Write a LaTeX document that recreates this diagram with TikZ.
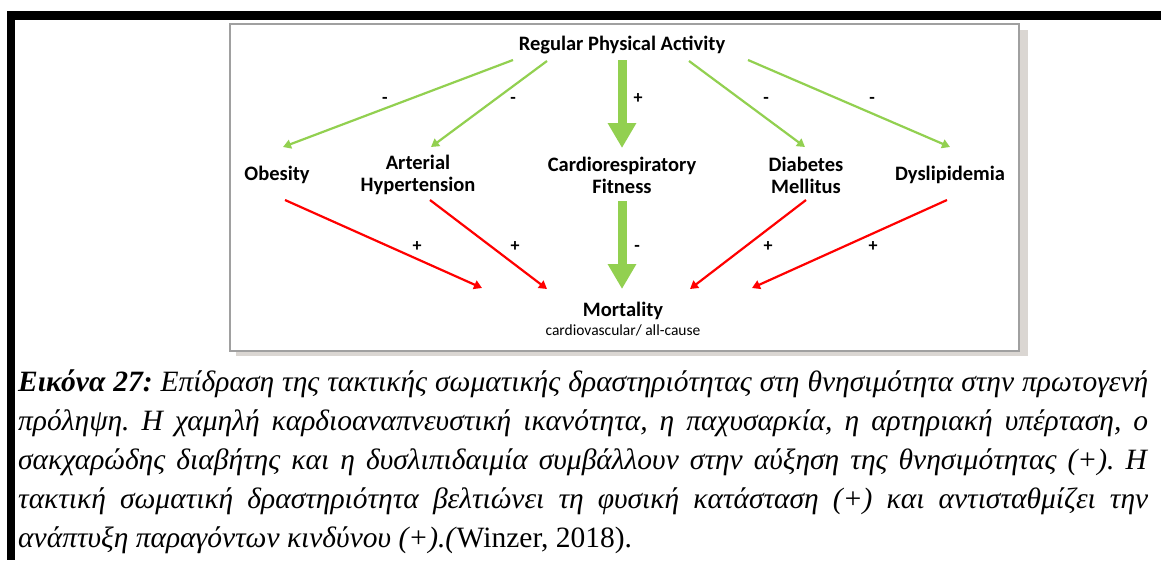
\documentclass[tikz,border=0pt]{standalone}
\usepackage{fontspec}
\newfontfamily\calfont{Carlito}
\newfontfamily\capfont{Liberation Serif}
\usetikzlibrary{arrows.meta}
\definecolor{lgreen}{RGB}{146,208,80}
\definecolor{rred}{RGB}{255,0,0}
\definecolor{boxgray}{RGB}{160,160,160}
\definecolor{shadowgray}{RGB}{218,214,210}
\begin{document}
\begin{tikzpicture}[x=1pt,y=-1pt,
  lbl/.style={font=\calfont\bfseries\fontsize{20.5}{22}\selectfont, align=center, inner sep=0pt},
  sgn/.style={font=\calfont\bfseries\fontsize{18}{20}\selectfont, inner sep=0pt},
  garrow/.style={draw=lgreen, line width=2.2pt, -{Triangle[width=9pt,length=8pt]}},
  rarrow/.style={draw=rred, line width=2.2pt, -{Triangle[width=9pt,length=8pt]}},
  bigarrow/.style={draw=lgreen, line width=9pt, -{Triangle[width=27pt,length=25pt]}},
]
\useasboundingbox (0,0) rectangle (1161,560);
\fill[white] (0,0) rectangle (1161,560);
% outer black frame
\fill[black] (7,11) rectangle (1161,20);
\fill[black] (7,11) rectangle (15,560);
% figure box with shadow
\fill[shadowgray] (1019,30) rectangle (1028,356);
\fill[shadowgray] (236,351) rectangle (1028,356);
\draw[boxgray, line width=2pt] (230,24) rectangle (1019,351);

% nodes
\node[lbl] (rpa) at (622,45) {Regular Physical Activity};
\node[lbl] (ob) at (277,175) {Obesity};
\node[lbl] (ah) at (418,175) {Arterial\\Hypertension};
\node[lbl] (crf) at (622,175) {Cardiorespiratory\\Fitness};
\node[lbl] (dm) at (806,175) {Diabetes\\Mellitus};
\node[lbl] (dl) at (950,175) {Dyslipidemia};
\node[lbl] (mort) at (623,311) {Mortality};
\node[inner sep=0pt, font=\calfont\fontsize{15.5}{17}\selectfont] (mortsub) at (623,330) {cardiovascular/ all-cause};

% connector end coordinates
\coordinate (g1s) at (513,60);  \coordinate (g1e) at (283,147);
\coordinate (g2s) at (547,61);  \coordinate (g2e) at (431,147);
\coordinate (g3s) at (689,61);  \coordinate (g3e) at (805,147);
\coordinate (g4s) at (748,60);  \coordinate (g4e) at (950,147);
\coordinate (b1s) at (622,60);  \coordinate (b1e) at (622,148);
\coordinate (r1s) at (285,200); \coordinate (r1e) at (482,288);
\coordinate (r2s) at (430,200); \coordinate (r2e) at (547,289);
\coordinate (r3s) at (806,200); \coordinate (r3e) at (690,289);
\coordinate (r4s) at (947,200); \coordinate (r4e) at (752,288);
\coordinate (b2s) at (622,201); \coordinate (b2e) at (622,289);

\draw[garrow] (g1s) -- (g1e);
\draw[garrow] (g2s) -- (g2e);
\draw[garrow] (g3s) -- (g3e);
\draw[garrow] (g4s) -- (g4e);
\draw[bigarrow] (b1s) -- (b1e);
\draw[rarrow] (r1s) -- (r1e);
\draw[rarrow] (r2s) -- (r2e);
\draw[rarrow] (r3s) -- (r3e);
\draw[rarrow] (r4s) -- (r4e);
\draw[bigarrow] (b2s) -- (b2e);

% signs
\node[sgn] (s1) at (385,100) {-};
\node[sgn] (s2) at (513,100) {-};
\node[sgn] (s3) at (638,99) {+};
\node[sgn] (s4) at (766,100) {-};
\node[sgn] (s5) at (872,100) {-};
\node[sgn] (s6) at (417,247) {+};
\node[sgn] (s7) at (515,247) {+};
\node[sgn] (s8) at (637,248) {-};
\node[sgn] (s9) at (768,247) {+};
\node[sgn] (s10) at (873,247) {+};

% caption
\node[anchor=north west, inner sep=0pt, text width=1130pt, align=justify,
      font=\capfont\fontsize{29.5}{39}\selectfont\frenchspacing] (cap) at (18,370)
{\textbf{\textit{Εικόνα 27:}} \textit{Επίδραση της τακτικής σωματικής δραστηριότητας στη θνησιμότητα στην πρωτογενή}\linebreak
\textit{πρόληψη. Η χαμηλή καρδιοαναπνευστική ικανότητα, η παχυσαρκία, η αρτηριακή υπέρταση, ο}\linebreak
\textit{σακχαρώδης διαβήτης και η δυσλιπιδαιμία συμβάλλουν στην αύξηση της θνησιμότητας (+). Η}\linebreak
\textit{τακτική σωματική δραστηριότητα βελτιώνει τη φυσική κατάσταση (+) και αντισταθμίζει την}\linebreak
\textit{ανάπτυξη παραγόντων κινδύνου (+).(}Winzer, 2018).};
\end{tikzpicture}
\end{document}
